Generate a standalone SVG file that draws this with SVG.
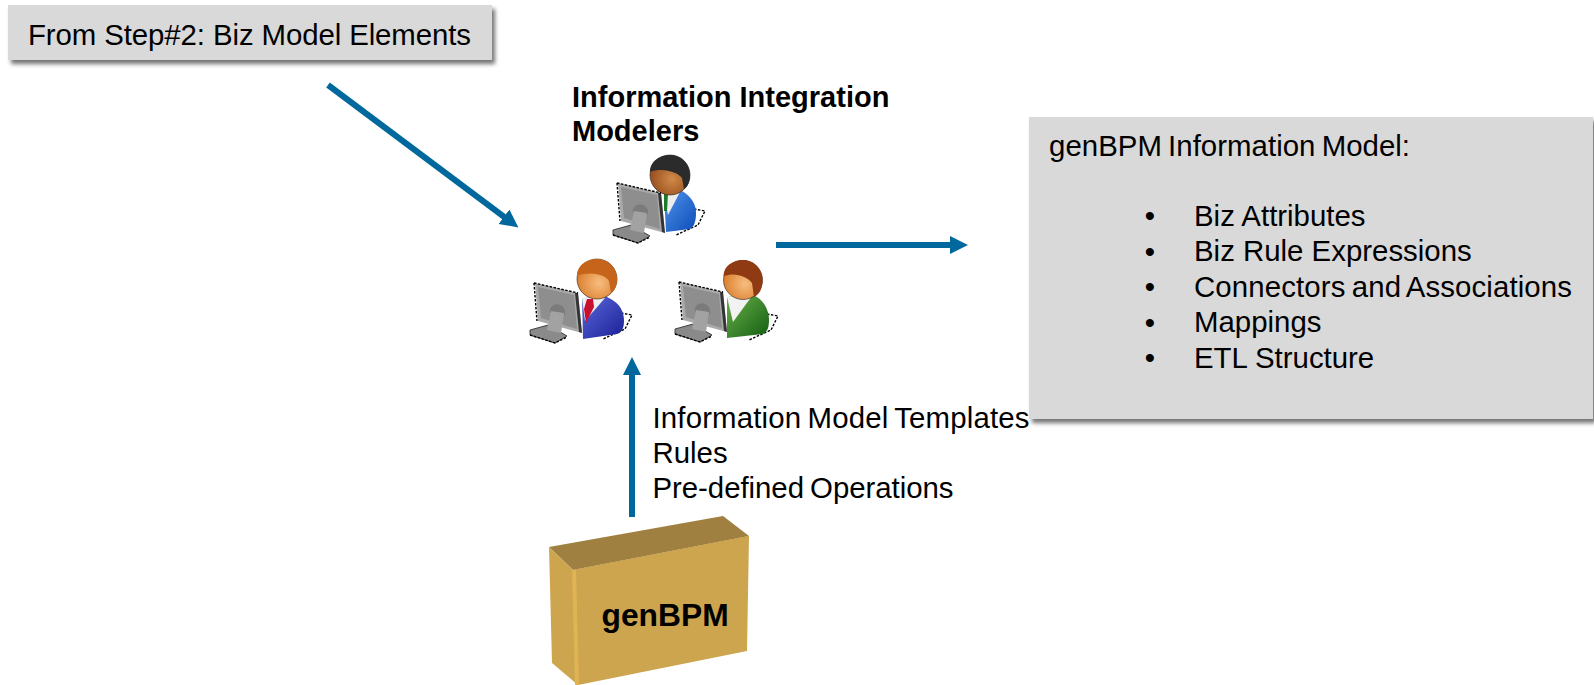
<svg xmlns="http://www.w3.org/2000/svg" width="1594" height="685" viewBox="0 0 1594 685">
<style>
text{font-family:"Liberation Sans",Arial,sans-serif;font-size:29.4px;fill:#000}
.b{font-weight:bold;font-size:29px}
.t{word-spacing:-2px}
.panel{fill:#d9d9d9;filter:url(#sh)}
.conn{stroke:#00689c;stroke-width:6;fill:none;marker-end:url(#ah)}
.jag{fill:none;stroke:#000;stroke-width:1.4;stroke-dasharray:2.5 1.5}
</style>
<defs>
<filter id="sh" x="-5%" y="-10%" width="110%" height="125%"><feDropShadow dx="3" dy="4" stdDeviation="2" flood-color="#000" flood-opacity="0.55"/></filter>
<marker id="ah" markerUnits="userSpaceOnUse" markerWidth="24" markerHeight="24" refX="8" refY="9" orient="auto"><path d="M0,0L18,9L0,18Z" fill="#00689c"/></marker>
<radialGradient id="face" cx="0.55" cy="0.6" r="0.6"><stop offset="0" stop-color="#f7bd7f"/><stop offset="1" stop-color="#d97a28"/></radialGradient>
<radialGradient id="faceD" cx="0.55" cy="0.6" r="0.6"><stop offset="0" stop-color="#d08a48"/><stop offset="1" stop-color="#93491a"/></radialGradient>
<linearGradient id="bl1" x1="0" y1="0" x2="1" y2="1"><stop offset="0" stop-color="#4f94ea"/><stop offset="1" stop-color="#0d4cb8"/></linearGradient>
<linearGradient id="bl2" x1="0" y1="0" x2="1" y2="1"><stop offset="0" stop-color="#5a68dc"/><stop offset="1" stop-color="#1a1f94"/></linearGradient>
<linearGradient id="gr" x1="0" y1="0" x2="1" y2="1"><stop offset="0" stop-color="#6cb04a"/><stop offset="1" stop-color="#125e12"/></linearGradient>
<g id="monitor">
<path d="M-5,47L13,42L32,53L20,60L-5,52Z" fill="#8a8a8a" stroke="#222" stroke-width="0.8"/>
<path d="M0,0L43,10L47,50L3,38Z" fill="#a9a9a9"/>
<path d="M43,10L47,50L44,49L40,10Z" fill="#333"/>
<path d="M3,4L39,12L42,46L6,35Z" fill="#8e8e8e"/>
<path d="M15,30C13,18 32,18 30,32Z" fill="#7b7b7b"/>
<path d="M16,28L29,30L26,50L12,47Z" fill="#a2a2a2"/>
<path class="jag" d="M-1,0L43,10M-1,0L2,38"/>
<path class="jag" d="M-5,52L20,60L32,54"/>
</g>
<path id="bodyShadow" class="jag" d="M24,34L35,36L28,50L6,60"/>
</defs>

<g id="connectors">
<line class="conn" x1="328" y1="85" x2="510.400" y2="221.500"/>
<line class="conn" x1="776" y1="245" x2="958" y2="245"/>
<line class="conn" x1="632" y1="517" x2="632" y2="367"/>
</g>

<g id="from-step">
<rect class="panel" x="8" y="5" width="484" height="55"/>
<text x="28" y="44.500" textLength="443">From Step#2: Biz Model Elements</text>
</g>

<g id="modelers-label">
<text class="b" x="572" y="107">Information Integration</text>
<text class="b" x="572" y="141">Modelers</text>
</g>

<g id="modeler-1" transform="translate(670,175)">
<use href="#bodyShadow"/>
<path d="M-6,19L12,16C22,22 26,30 26,38C26,46 24,52 20,54L-4,57Z" fill="url(#bl1)"/>
<path d="M-6,19L10,17L-2,40Z" fill="#eee"/>
<path d="M-6,19L-2,19L-3,36L-6,36Z" fill="#1e7a2a"/>
<circle r="20" fill="url(#faceD)" stroke="#222" stroke-width="0.6"/>
<path d="M-20,-3C-20,-14 -10,-20 0,-20C12,-20 20,-10 20,0C20,6 18,12 14,14L12,3C8,-3 -8,-8 -20,-3Z" fill="#2b2b2b"/>
<use href="#monitor" x="-52" y="8"/>
</g>

<g id="modeler-2" transform="translate(597,279)">
<use href="#bodyShadow"/>
<path d="M-15,19L10,18C24,24 27,34 27,42C27,50 24,54 20,55L-14,60Z" fill="url(#bl2)"/>
<path d="M-15,19L8,19L-12,42Z" fill="#eee"/>
<path d="M-10,20L-4,20L-3,28L-11,44L-13,30Z" fill="#c8102e"/>
<circle r="20" fill="url(#face)" stroke="#222" stroke-width="0.6"/>
<path d="M-20,-3C-20,-14 -10,-20 0,-20C12,-20 20,-10 20,0C20,6 18,12 14,14L12,2C8,-5 -8,-8 -20,-3Z" fill="#c5641a"/>
<use href="#monitor" x="-62" y="4"/>
</g>

<g id="modeler-3" transform="translate(743,280)">
<use href="#bodyShadow"/>
<path d="M-16,17L10,15C22,20 26,32 26,40C26,48 24,52 20,54L-16,58Z" fill="url(#gr)"/>
<path d="M-16,17L9,16L-10,42Z" fill="#f2f2f2"/>
<circle r="19.5" fill="url(#face)" stroke="#222" stroke-width="0.6"/>
<path d="M-19.500,-4C-19.500,-14 -10,-20 0,-20C12,-20 19.500,-10 19.500,0C19.500,8 17,14 11,17L9,3C4,-4 -8,-8 -19.500,-4Z" fill="#8f3a12"/>
<use href="#monitor" x="-63" y="2"/>
</g>

<g id="genbpm-box">
<path d="M549,547L723,516L749,536L573,570Z" fill="#a08040"/>
<path d="M573,570L749,536L749,539L573,573Z" fill="#b08e48"/>
<path d="M549,547L573,570L578,685L552,663Z" fill="#cda54f"/>
<path d="M573,570L749,536L747,651L578,685Z" fill="#cda54f"/>
<path d="M572,570L576,570L579,685L575,685Z" fill="#e0b455"/>
<text class="b" x="601.500" y="626" style="font-size:31.8px">genBPM</text>
</g>

<g id="inputs-label">
<text class="t" x="652.500" y="427.500" textLength="377">Information Model Templates</text>
<text x="652.500" y="462.500">Rules</text>
<text class="t" x="652.500" y="497.500" textLength="301">Pre-defined Operations</text>
</g>

<g id="information-model">
<rect class="panel" x="1029" y="117" width="564" height="302"/>
<text class="t" x="1049" y="155.500" textLength="361">genBPM Information Model:</text>
<text x="1144.800" y="226">•</text><text x="1194" y="225.500">Biz Attributes</text>
<text x="1144.800" y="261.500">•</text><text x="1194" y="261">Biz Rule Expressions</text>
<text x="1144.800" y="297">•</text><text class="t" x="1194" y="296.500" textLength="378">Connectors and Associations</text>
<text x="1144.800" y="332.500">•</text><text x="1194" y="332">Mappings</text>
<text x="1144.800" y="368">•</text><text x="1194" y="367.500">ETL Structure</text>
</g>
</svg>
